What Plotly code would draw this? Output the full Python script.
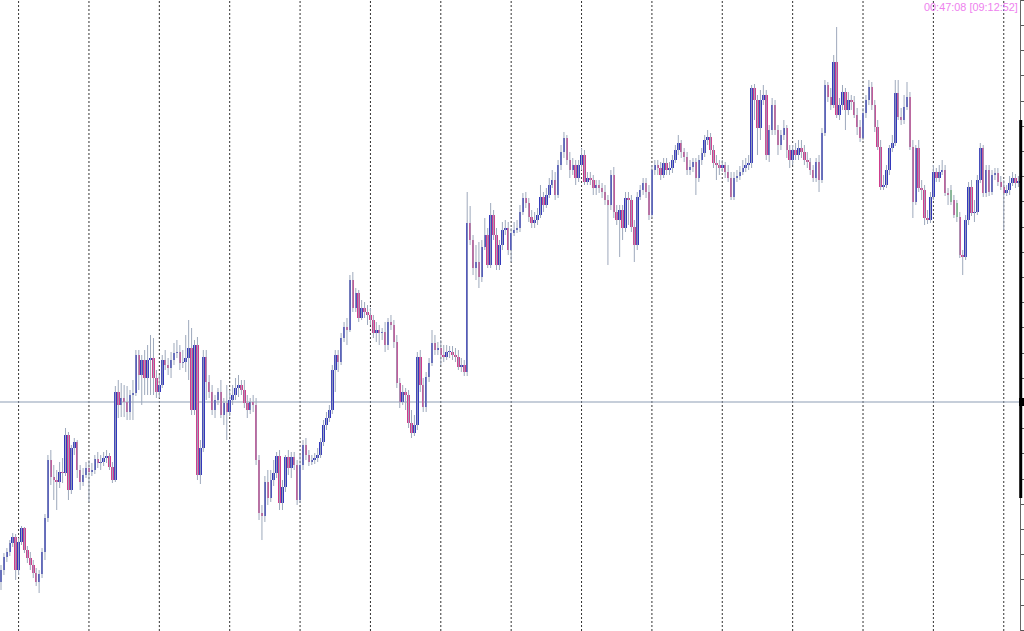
import plotly.graph_objects as go

# ---- data (price units) ----
open_ = [
    418, 430, 443, 448, 457, 463, 430, 458, 472, 450,
    442, 435, 427, 418, 426, 448, 482, 540, 523, 520,
    518, 528, 527, 565, 510, 552, 558, 530, 518, 525,
    532, 528, 530, 541, 537, 538, 542, 544, 533, 520,
    608, 595, 602, 598, 588, 605, 607, 645, 625, 640,
    622, 640, 642, 622, 608, 615, 640, 635, 632, 640,
    647, 648, 637, 638, 642, 652, 590, 655, 525, 552,
    643, 618, 608, 590, 600, 608, 585, 597, 588, 600,
    605, 612, 615, 610, 597, 590, 598, 595, 540, 487,
    484, 518, 502, 520, 527, 544, 497, 513, 543, 532,
    543, 535, 500, 535, 555, 545, 538, 540, 542, 545,
    558, 575, 582, 590, 630, 645, 638, 662, 673, 670,
    720, 692, 707, 682, 692, 688, 685, 680, 667, 670,
    667, 668, 655, 678, 675, 658, 617, 598, 608, 605,
    577, 567, 575, 643, 615, 593, 623, 637, 657, 650,
    652, 645, 643, 648, 648, 645, 643, 633, 635, 628,
    777, 760, 732, 738, 723, 753, 765, 735, 785, 765,
    735, 755, 770, 772, 750, 767, 770, 772, 788, 802,
    797, 783, 777, 780, 785, 803, 795, 805, 815, 820,
    805, 835, 848, 862, 840, 830, 835, 822, 835, 845,
    818, 822, 820, 812, 815, 812, 808, 800, 795, 825,
    788, 780, 790, 772, 802, 800, 773, 755, 803, 810,
    817, 808, 785, 830, 835, 832, 825, 837, 830, 832,
    840, 850, 857, 848, 843, 830, 833, 838, 822, 840,
    847, 860, 863, 850, 837, 835, 832, 835, 828, 822,
    803, 822, 824, 828, 832, 835, 837, 912, 900, 872,
    900, 905, 845, 870, 895, 870, 855, 865, 872, 850,
    840, 850, 845, 852, 848, 840, 838, 830, 822, 838,
    820, 867, 915, 903, 895, 938, 885, 895, 908, 890,
    900, 898, 885, 873, 862, 887, 900, 913, 895, 873,
    853, 813, 815, 830, 852, 857, 907, 883, 880, 893,
    903, 853, 798, 852, 812, 810, 782, 780, 803, 828,
    822, 828, 830, 807, 798, 800, 783, 783, 745, 743,
    780, 813, 787, 788, 820, 852, 807, 830, 808, 825,
    827, 818, 813, 807, 810, 817, 822, 817,
]
close = [
    430, 443, 448, 457, 463, 430, 458, 472, 450, 442,
    435, 427, 418, 426, 448, 482, 540, 523, 520, 518,
    528, 527, 565, 510, 552, 558, 530, 518, 525, 532,
    528, 530, 541, 537, 538, 542, 544, 533, 520, 608,
    595, 602, 598, 588, 605, 607, 645, 625, 640, 622,
    640, 642, 622, 608, 615, 640, 635, 632, 640, 647,
    648, 637, 638, 642, 652, 590, 655, 525, 552, 643,
    618, 608, 590, 600, 608, 585, 597, 588, 600, 605,
    612, 615, 610, 597, 590, 598, 595, 540, 487, 484,
    518, 502, 520, 527, 544, 497, 513, 543, 532, 543,
    535, 500, 535, 555, 545, 538, 540, 542, 545, 558,
    575, 582, 590, 630, 645, 638, 662, 673, 670, 720,
    692, 707, 682, 692, 688, 685, 680, 667, 670, 667,
    668, 655, 678, 675, 658, 617, 598, 608, 605, 577,
    567, 575, 643, 615, 593, 623, 637, 657, 650, 652,
    645, 643, 648, 648, 645, 643, 633, 635, 628, 777,
    760, 732, 738, 723, 753, 765, 735, 785, 765, 735,
    755, 770, 772, 750, 767, 770, 772, 788, 802, 797,
    783, 777, 780, 785, 803, 795, 805, 815, 820, 805,
    835, 848, 862, 840, 830, 835, 822, 835, 845, 818,
    822, 820, 812, 815, 812, 808, 800, 795, 825, 788,
    780, 790, 772, 802, 800, 773, 755, 803, 810, 817,
    808, 785, 830, 835, 832, 825, 837, 830, 832, 840,
    850, 857, 848, 843, 830, 833, 838, 822, 840, 847,
    860, 863, 850, 837, 835, 832, 835, 828, 822, 803,
    822, 824, 828, 832, 835, 837, 912, 900, 872, 900,
    905, 845, 870, 895, 870, 855, 865, 872, 850, 840,
    850, 845, 852, 848, 840, 838, 830, 822, 838, 820,
    867, 915, 903, 895, 938, 885, 895, 908, 890, 900,
    898, 885, 873, 862, 887, 900, 913, 895, 873, 853,
    813, 815, 830, 852, 857, 907, 883, 880, 893, 903,
    853, 798, 852, 812, 810, 782, 780, 803, 828, 822,
    828, 830, 807, 805, 810, 785, 797, 745, 743, 780,
    813, 787, 788, 820, 852, 807, 830, 808, 825, 827,
    818, 813, 807, 810, 817, 822, 817, 819,
]
high = [
    435, 447, 452, 460, 467, 466, 462, 474, 473, 454,
    448, 440, 432, 430, 452, 486, 545, 550, 535, 530,
    538, 542, 572, 568, 555, 562, 560, 535, 532, 538,
    540, 537, 545, 548, 545, 548, 550, 547, 538, 614,
    620, 617, 615, 614, 610, 620, 650, 650, 645, 650,
    655, 665, 662, 630, 625, 645, 650, 642, 648, 657,
    660, 655, 650, 665, 680, 672, 660, 663, 560, 650,
    650, 625, 615, 605, 612, 620, 602, 615, 610, 615,
    622, 625, 620, 620, 605, 602, 605, 602, 545, 495,
    524, 530, 530, 540, 548, 550, 520, 545, 550, 548,
    548, 540, 545, 560, 562, 550, 545, 547, 552, 562,
    580, 588, 595, 635, 650, 650, 667, 678, 682, 725,
    728, 712, 710, 700, 698, 695, 692, 685, 678, 675,
    672, 678, 682, 685, 680, 665, 622, 615, 612, 610,
    590, 585, 648, 650, 622, 628, 642, 670, 665, 658,
    660, 655, 655, 654, 654, 652, 650, 642, 640, 808,
    794, 765, 755, 758, 760, 782, 772, 797, 790, 772,
    760, 778, 780, 778, 772, 778, 780, 795, 807, 808,
    802, 790, 788, 792, 815, 808, 812, 822, 830, 828,
    840, 855, 868, 865, 848, 842, 840, 840, 852, 850,
    828, 828, 825, 820, 820, 817, 815, 805, 830, 833,
    795, 795, 795, 808, 808, 805, 780, 808, 815, 822,
    822, 815, 835, 840, 840, 838, 842, 842, 838, 845,
    855, 865, 860, 852, 848, 840, 842, 842, 845, 852,
    865, 870, 867, 855, 845, 840, 840, 838, 835, 828,
    828, 830, 834, 840, 842, 845, 915, 916, 905, 910,
    915, 910, 875, 902, 900, 875, 870, 880, 875, 855,
    855, 857, 860, 860, 855, 848, 842, 835, 842, 845,
    872, 920, 918, 912, 945, 973, 902, 915, 912, 908,
    905, 904, 892, 880, 892, 905, 920, 918, 900, 880,
    860, 825, 835, 855, 865, 920, 920, 892, 905, 918,
    908, 860, 855, 860, 820, 815, 790, 808, 835, 832,
    835, 840, 835, 812, 815, 805, 800, 788, 750, 785,
    818, 820, 800, 825, 857, 855, 835, 835, 830, 832,
    832, 824, 820, 815, 824, 828, 826, 824,
]
low = [
    410, 425, 438, 444, 453, 420, 425, 455, 447, 437,
    430, 422, 414, 407, 422, 440, 478, 515, 500, 490,
    512, 517, 524, 500, 506, 545, 522, 510, 514, 522,
    498, 524, 526, 532, 530, 534, 537, 530, 517, 518,
    582, 583, 583, 580, 580, 580, 604, 610, 595, 605,
    605, 605, 605, 602, 602, 612, 630, 625, 622, 635,
    642, 630, 632, 628, 620, 585, 585, 520, 516, 548,
    600, 602, 585, 582, 595, 582, 575, 560, 584, 595,
    600, 603, 605, 592, 582, 586, 588, 535, 480, 460,
    478, 495, 498, 514, 522, 490, 490, 508, 525, 522,
    530, 495, 497, 530, 540, 534, 535, 536, 538, 542,
    554, 570, 578, 586, 608, 628, 635, 658, 655, 668,
    688, 688, 678, 680, 682, 675, 675, 662, 658, 655,
    660, 648, 650, 670, 652, 612, 592, 595, 590, 572,
    562, 564, 570, 608, 588, 588, 618, 634, 645, 645,
    635, 638, 640, 642, 640, 638, 630, 628, 624, 624,
    755, 725, 720, 712, 718, 750, 732, 732, 760, 730,
    730, 750, 765, 745, 738, 764, 767, 768, 785, 792,
    778, 772, 772, 775, 782, 788, 792, 802, 812, 800,
    802, 830, 842, 835, 822, 825, 815, 818, 830, 815,
    815, 815, 805, 805, 807, 802, 795, 735, 790, 782,
    775, 743, 760, 768, 775, 768, 738, 750, 800, 805,
    802, 780, 782, 825, 825, 820, 822, 825, 825, 827,
    837, 845, 842, 838, 825, 825, 828, 805, 818, 835,
    843, 855, 845, 832, 820, 825, 828, 822, 818, 800,
    800, 818, 820, 825, 828, 830, 832, 880, 845, 860,
    895, 840, 838, 865, 865, 845, 850, 860, 842, 832,
    835, 840, 840, 842, 835, 832, 825, 818, 818, 808,
    817, 864, 898, 890, 892, 882, 880, 890, 870, 885,
    890, 882, 865, 858, 860, 882, 895, 890, 868, 850,
    810, 810, 812, 825, 848, 854, 880, 875, 876, 890,
    850, 782, 795, 808, 800, 775, 776, 777, 800, 818,
    818, 825, 804, 795, 795, 782, 778, 742, 725, 740,
    775, 784, 778, 785, 817, 803, 803, 804, 805, 820,
    814, 810, 770, 804, 805, 814, 812, 813,
]
green_bars = [324, 326]
separator_bars = [6, 30, 54, 78, 102, 126, 150, 174, 198, 222, 246, 270, 294, 318, 342]
hline_price = 598
marker_band = (502, 880)
timer_text = "00:47:08 [09:12:52]"

# ---- styles ----
BLUE = "#3338bb"
PINK = "#d03c8c"
GREEN = "#78c878"
WICK = "#9ea9bc"

n = len(close)
idx = list(range(n))

wx, wy = [], []
for i in idx:
    wx += [i, i, None]
    wy += [low[i], high[i], None]

groups = {"blue": ([], [], []), "pink": ([], [], []), "green": ([], [], [])}
for i in idx:
    o, c = open_[i], close[i]
    if i in green_bars:
        g = "green"
    elif c >= o:
        g = "blue"
    else:
        g = "pink"
    xs, bs, hs = groups[g]
    xs.append(i)
    bs.append(min(o, c))
    hs.append(max(abs(c - o), 1.0))

fig = go.Figure()
fig.add_trace(go.Scatter(x=wx, y=wy, mode="lines",
                         line=dict(color=WICK, width=1), hoverinfo="skip"))
for g, col in (("blue", BLUE), ("pink", PINK), ("green", GREEN)):
    xs, bs, hs = groups[g]
    fig.add_trace(go.Bar(x=xs, y=hs, base=bs, width=0.85,
                         marker=dict(color=col, line=dict(width=0))))

shapes = []
for b in separator_bars:
    shapes.append(dict(type="line", xref="x", yref="paper", x0=b, x1=b, y0=0, y1=1,
                       line=dict(color="#333333", width=1, dash="2px,2px"), layer="below"))
shapes.append(dict(type="line", xref="paper", yref="y", x0=0, x1=1,
                   y0=hline_price, y1=hline_price,
                   line=dict(color="#8d9db4", width=1), layer="below"))
shapes.append(dict(type="line", xref="paper", yref="y", x0=1.0007, x1=1.0007,
                   y0=marker_band[0], y1=marker_band[1],
                   line=dict(color="black", width=3)))
shapes.append(dict(type="rect", xref="paper", yref="y", x0=0.999, x1=1.005,
                   y0=hline_price - 4, y1=hline_price + 4,
                   fillcolor="black", line=dict(width=0)))

fig.update_layout(
    width=1024, height=631,
    margin=dict(l=0, r=4, t=0, b=0),
    plot_bgcolor="white", paper_bgcolor="white",
    showlegend=False, barmode="overlay",
    shapes=shapes,
    xaxis=dict(range=[-0.341, 347.54], showgrid=False, zeroline=False,
               showticklabels=False, ticks="", showline=False, fixedrange=True),
    yaxis=dict(range=[369, 1000], side="right", showgrid=False, zeroline=False,
               showticklabels=False, ticks="outside", ticklen=3, tickcolor="#555",
               tick0=596.5, dtick=25.2, tickmode="linear",
               showline=True, linecolor="#666", linewidth=1, fixedrange=True),
    annotations=[dict(text=timer_text, xref="paper", yref="paper",
                      x=1019.5 / 1020, y=1 - 7 / 631, xanchor="right", yanchor="middle",
                      showarrow=False,
                      font=dict(family="Liberation Sans", size=10.9, color="#ee82ee"))],
)

post = (
    "document.body.style.margin='0';document.body.style.padding='0';"
    "document.body.style.overflow='hidden';"
    "document.querySelectorAll('.barlayer path')"
    ".forEach(function(p){p.style.shapeRendering='crispEdges';});"
)
fig.write_html("out.html", config={"displayModeBar": False}, post_script=post)
